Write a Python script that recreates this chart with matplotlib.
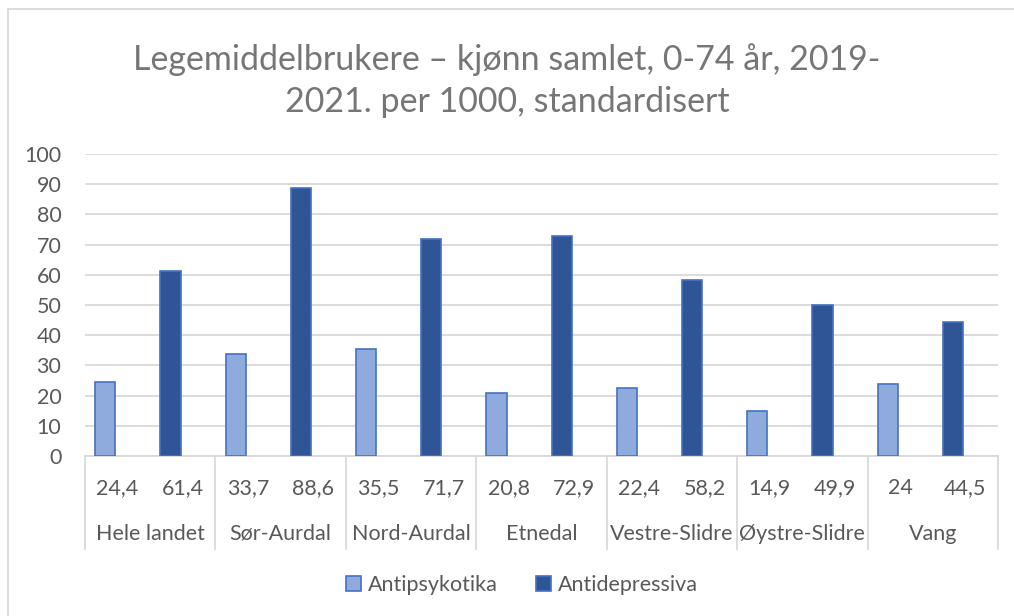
import matplotlib.pyplot as plt
from matplotlib.patches import Patch, Rectangle
import numpy as np

# data
kommuner = ["Hele landet", "Sør-Aurdal", "Nord-Aurdal", "Etnedal",
            "Vestre-Slidre", "Øystre-Slidre", "Vang"]
antipsykotika = [24.4, 33.7, 35.5, 20.8, 22.4, 14.9, 24]
antidepressiva = [61.4, 88.6, 71.7, 72.9, 58.2, 49.9, 44.5]
yticks = [0, 10, 20, 30, 40, 50, 60, 70, 80, 90, 100]

LIGHT = "#8FAADC"
DARK = "#2F5597"
EDGE = "#4472C4"
TEXT = "#595959"
GRID = "#D9D9D9"
FS = 15.5

plt.rcParams["font.family"] = ["Lato", "DejaVu Sans"]

W, H = 1014, 616
fig = plt.figure(figsize=(W / 100, H / 100), dpi=100)

# chart frame
fig.patches.append(Rectangle((8 / W, -0.1), 1.2, 1 - 9 / H + 0.1, transform=fig.transFigure,
                             fill=False, edgecolor=GRID, linewidth=1.3))

ax = fig.add_axes([85 / W, 160 / H, (998 - 85) / W, (462 - 160) / H])

n = len(kommuner)
off = -0.19
bw = 0.31
x_light = np.arange(n) * 2 + 0.5 + off
x_dark = np.arange(n) * 2 + 1.5 + off
ax.bar(x_light, antipsykotika, width=bw, color=LIGHT, edgecolor=EDGE, linewidth=1.2, zorder=3)
ax.bar(x_dark, antidepressiva, width=bw, color=DARK, edgecolor=EDGE, linewidth=1.2, zorder=3)

ax.set_xlim(0, 2 * n)
ax.set_ylim(0, 100)
ax.set_yticks(yticks)
ax.set_yticklabels([str(t) for t in yticks])
ax.tick_params(axis="y", length=0, pad=17, labelsize=FS, labelcolor=TEXT)
ax.tick_params(axis="x", length=0, labelbottom=False)
ax.grid(axis="y", color=GRID, linewidth=1.3, zorder=0)
for s in ["top", "right", "left"]:
    ax.spines[s].set_visible(False)
ax.spines["bottom"].set_color(GRID)
ax.spines["bottom"].set_linewidth(1.3)

# data table under the axis
px = 1 / (462 - 160)  # one pixel in axes y units
trans = ax.get_xaxis_transform()
for i in range(n + 1):
    ax.plot([2 * i, 2 * i], [0, -(549 - 456) * px], transform=trans, color=GRID,
            linewidth=1.3, clip_on=False)


def fmt(v):
    return f"{v:g}".replace(".", ",")


for i, name in enumerate(kommuner):
    ax.text(2 * i + 0.5, -(488 - 456) * px, fmt(antipsykotika[i]), transform=trans,
            ha="center", va="center", fontsize=FS, color=TEXT)
    ax.text(2 * i + 1.5, -(488 - 456) * px, fmt(antidepressiva[i]), transform=trans,
            ha="center", va="center", fontsize=FS, color=TEXT)
    ax.text(2 * i + 1, -(534 - 456) * px, name, transform=trans,
            ha="center", va="center", fontsize=FS, color=TEXT)

fig.text(507 / W, 1 - 60 / H, "Legemiddelbrukere \u2013 kjønn samlet, 0-74 år, 2019-",
         ha="center", va="center", fontsize=24.5, color="#767676")
fig.text(507 / W, 1 - 102 / H, "2021. per 1000, standardisert",
         ha="center", va="center", fontsize=24.5, color="#767676")

handles = [Patch(facecolor=LIGHT, edgecolor=EDGE, linewidth=1.2, label="Antipsykotika"),
           Patch(facecolor=DARK, edgecolor=EDGE, linewidth=1.2, label="Antidepressiva")]
fig.legend(handles=handles, loc="center", bbox_to_anchor=(522 / W, 1 - 585 / H), ncol=2,
           frameon=False, fontsize=FS, labelcolor=TEXT, handlelength=0.7,
           handleheight=0.7, handletextpad=0.3, columnspacing=1.8)

fig.savefig("out.png", dpi=100)
